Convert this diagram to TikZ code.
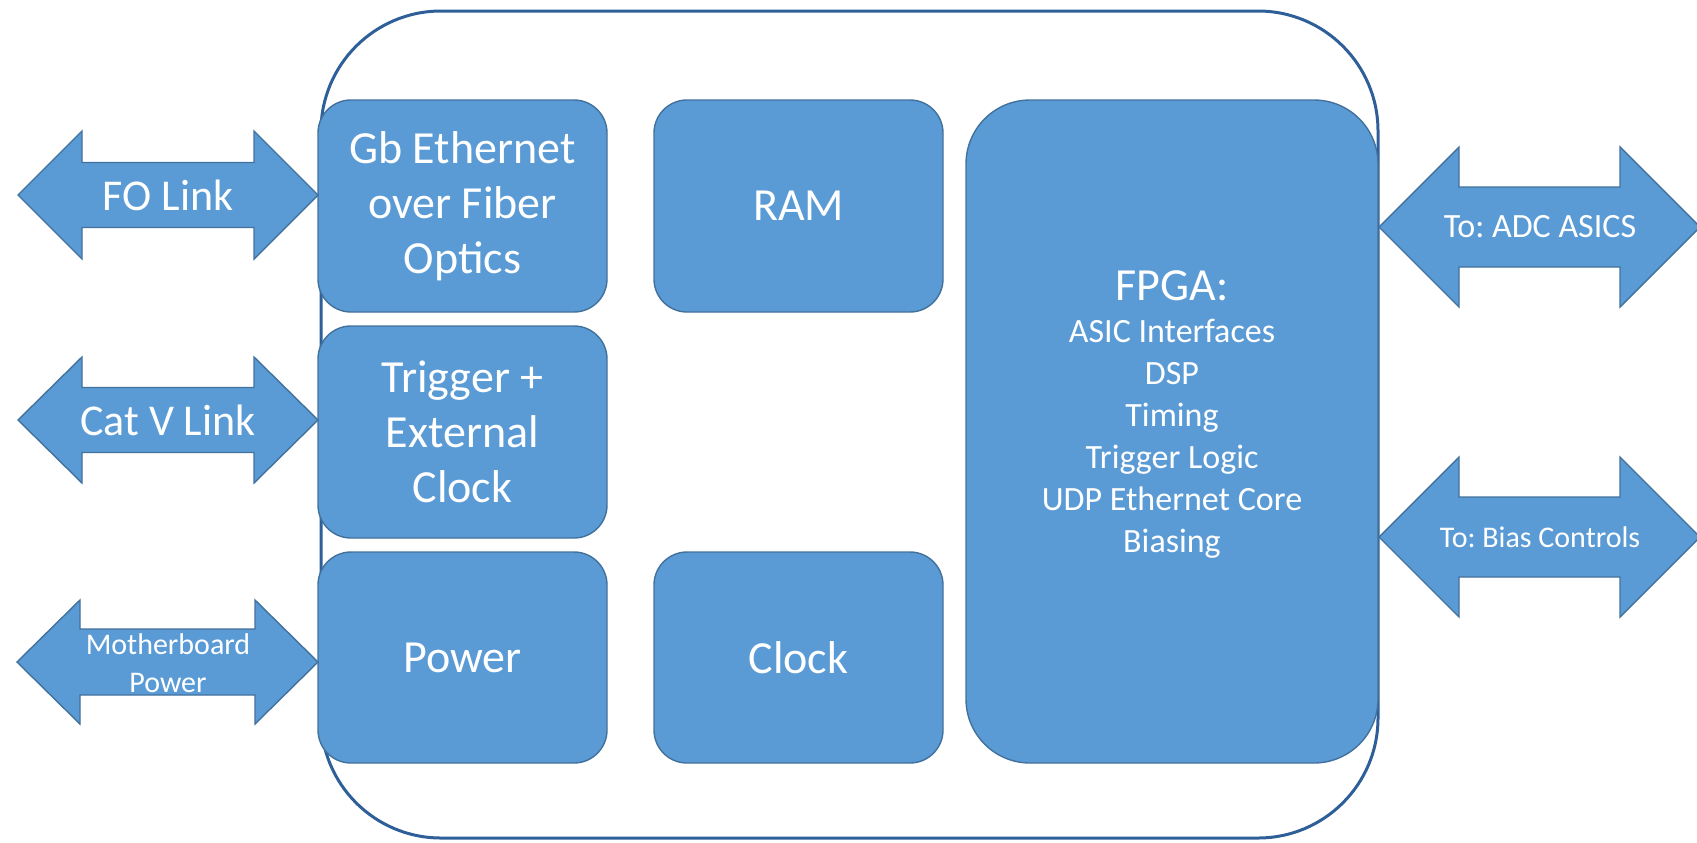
\documentclass[tikz,border=0pt]{standalone}
\usepackage{fontspec}
\setmainfont{Carlito}
\frenchspacing
\definecolor{boxfill}{HTML}{5B9BD5}
\definecolor{boxline}{HTML}{41719C}
\definecolor{outerline}{HTML}{2E5F99}
\newcommand\dblarrow[7]{% name, x1, x2, head length, centre y, head half, shaft half
  \fill[arr] (#2,#5) -- ({#2+#4},{#5-#6}) -- ({#2+#4},{#5-#7}) -- ({#3-#4},{#5-#7}) -- ({#3-#4},{#5-#6}) -- (#3,#5)
    -- ({#3-#4},{#5+#6}) -- ({#3-#4},{#5+#7}) -- ({#2+#4},{#5+#7}) -- ({#2+#4},{#5+#6}) -- cycle;
  \coordinate (#1) at ({(#2+#3)/2},#5);
}
\begin{document}
\begin{tikzpicture}[x=0.5pt,y=-0.5pt,
  blk/.style={fill=boxfill, draw=boxline, line width=0.7pt, rounded corners=16.5pt, text=white, align=center,
    minimum width=144.5pt, minimum height=106pt, inner sep=0pt,
    font=\fontsize{23}{27.5}\selectfont},
  arr/.style={fill=boxfill, draw=boxline, line width=0.7pt},
  lbl/.style={text=white, align=center, inner sep=0pt}]
\useasboundingbox (0,0) rectangle (1697,842);
% outer board outline
\draw[outerline, line width=1.5pt, rounded corners=60pt] (321,11) rectangle (1378,838);
% boxes
\node[blk] (gb) at (462.5,206) {Gb Ethernet\\over Fiber\\Optics};
\node[blk] (trig) at (462.5,432) {Trigger +\\External\\Clock};
\node[blk, minimum height=105.5pt] (pow) at (462.5,657.5) {Power};
\node[blk] (ram) at (798.5,206) {RAM};
\node[blk, minimum height=105.5pt] (clk) at (798.5,657.5) {Clock};
\node[blk, minimum width=206pt, minimum height=331.5pt, rounded corners=32pt] (fpga) at (1172,431.5) {};
\node[lbl, font=\fontsize{17}{21}\selectfont] (fpgatxt) at (1172,414)
  {{\fontsize{23}{23}\selectfont FPGA:}\\ ASIC Interfaces\\ DSP\\ Timing\\ Trigger Logic\\ UDP Ethernet Core\\ Biasing};
% double arrows
\dblarrow{fo}{18}{318}{64}{195}{64}{32.5}
\dblarrow{cat}{18}{318}{64}{420}{63}{32.5}
\dblarrow{mb}{17}{318}{63}{662}{62}{33}
\dblarrow{adc}{1379}{1700}{80}{227}{80}{40}
\dblarrow{bias}{1379}{1700}{80}{537}{80}{40}
\node[lbl, font=\fontsize{22}{27}\selectfont] (folbl) at (168,195) {FO Link};
\node[lbl, font=\fontsize{22}{27}\selectfont] (catlbl) at (168,420) {Cat V Link};
\node[lbl, font=\fontsize{15}{19}\selectfont] (mblbl) at (168,663) {Motherboard\\Power};
\node[lbl, font=\fontsize{17}{21}\selectfont] (adclbl) at (1540,227) {To: ADC ASICS};
\node[lbl, font=\fontsize{15}{19}\selectfont] (biaslbl) at (1540,537) {To: Bias Controls};
\end{tikzpicture}
\end{document}
